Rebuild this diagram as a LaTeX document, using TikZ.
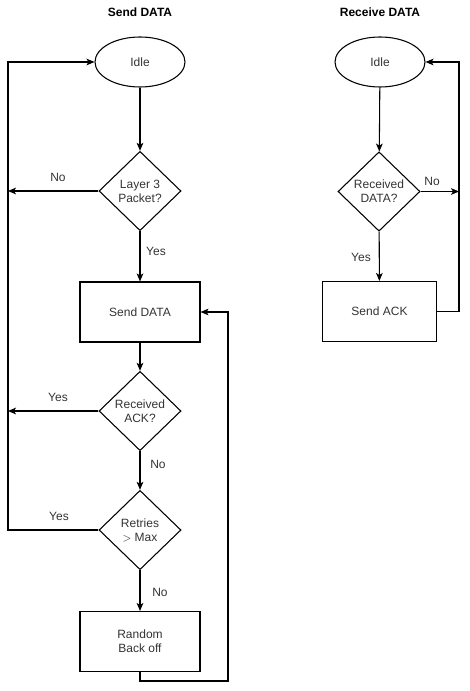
\documentclass[tikz,border=0pt]{standalone}
\usepackage{fontspec}
\setmainfont{Liberation Sans}
\usetikzlibrary{shapes.geometric,arrows.meta}
\begin{document}
\begin{tikzpicture}[x=0.75pt,y=-0.75pt,
  every node/.style={font=\fontsize{9}{10.5}\selectfont, text=black!80},
  line/.style={draw=black, line width=0.8pt},
  arr/.style={line, -{Stealth[length=6pt,width=5pt,inset=1.5pt]}},
  idlebox/.style={ellipse, draw, line width=0.8pt, minimum width=67.5pt, minimum height=37.5pt, inner sep=0pt},
  decbox/.style={diamond, draw, line width=0.8pt, minimum width=61.5pt, minimum height=59.5pt, inner sep=0pt, align=center},
  procbox/.style={rectangle, draw, line width=0.8pt, minimum width=90pt, minimum height=45pt, inner sep=0pt, align=center},
  lbl/.style={inner sep=0pt},
  title/.style={font=\fontsize{9}{10.5}\selectfont\bfseries, text=black}
]
\useasboundingbox (0,0) rectangle (470,691);
% titles
\node[title] (t1) at (140,12) {Send DATA};
\node[title] (t2) at (380,12) {Receive DATA};
% left chart
\node[idlebox] (idleL) at (140,62) {Idle};
\node[decbox] (d1) at (140,191) {Layer 3\\Packet?};
\node[procbox] (send) at (140,312) {Send DATA};
\node[decbox] (d2) at (140,411) {Received\\ACK?};
\node[decbox] (d3) at (140,530) {Retries\\{\fontsize{8}{10}\selectfont $>$} Max};
\node[procbox] (rand) at (140,641.5) {Random\\Back off};
\coordinate (lx1) at (8,191);
\coordinate (lx2) at (8,411);
\coordinate (lx3) at (8,530);
\coordinate (lxt) at (8,62);
\coordinate (bl) at (140,681);
\coordinate (br) at (228,681);
\coordinate (tr) at (228,312);
\draw[arr] (idleL) -- (d1);
\draw[arr] (d1.west) -- (lx1);
\draw[arr] (d1) -- (send);
\draw[arr] (send) -- (d2);
\draw[arr] (d2.west) -- (lx2);
\draw[arr] (d2) -- (d3);
\draw[arr] (d3.west) -- (lx3) -- (lxt) -- (idleL.west);
\draw[arr] (d3) -- (rand);
\draw[arr] (rand.south) -- (bl) -- (br) -- (tr) -- (send.east);
% left labels
\node[lbl] (n1) at (58,177) {No};
\node[lbl] (y1) at (156,251) {Yes};
\node[lbl] (y2) at (58,397) {Yes};
\node[lbl] (n2) at (158,464) {No};
\node[lbl] (y3) at (59,516) {Yes};
\node[lbl] (n3) at (160,592) {No};
% right chart
\node[idlebox] (idleR) at (380,62) {Idle};
\node[decbox] (d4) at (379,191.5) {Received\\DATA?};
\node[procbox, minimum width=86pt] (ack) at (379.5,311.5) {Send ACK};
\coordinate (rx1) at (459,191.5);
\coordinate (rxb) at (459,311.5);
\coordinate (rxt) at (459,62);
\draw[arr] (idleR) -- (d4);
\draw[arr] (d4.east) -- (rx1);
\draw[arr] (d4) -- (ack);
\draw[arr] (ack.east) -- (rxb) -- (rxt) -- (idleR.east);
\node[lbl] (n4) at (432,181) {No};
\node[lbl] (y4) at (361,257) {Yes};
\end{tikzpicture}
\end{document}
